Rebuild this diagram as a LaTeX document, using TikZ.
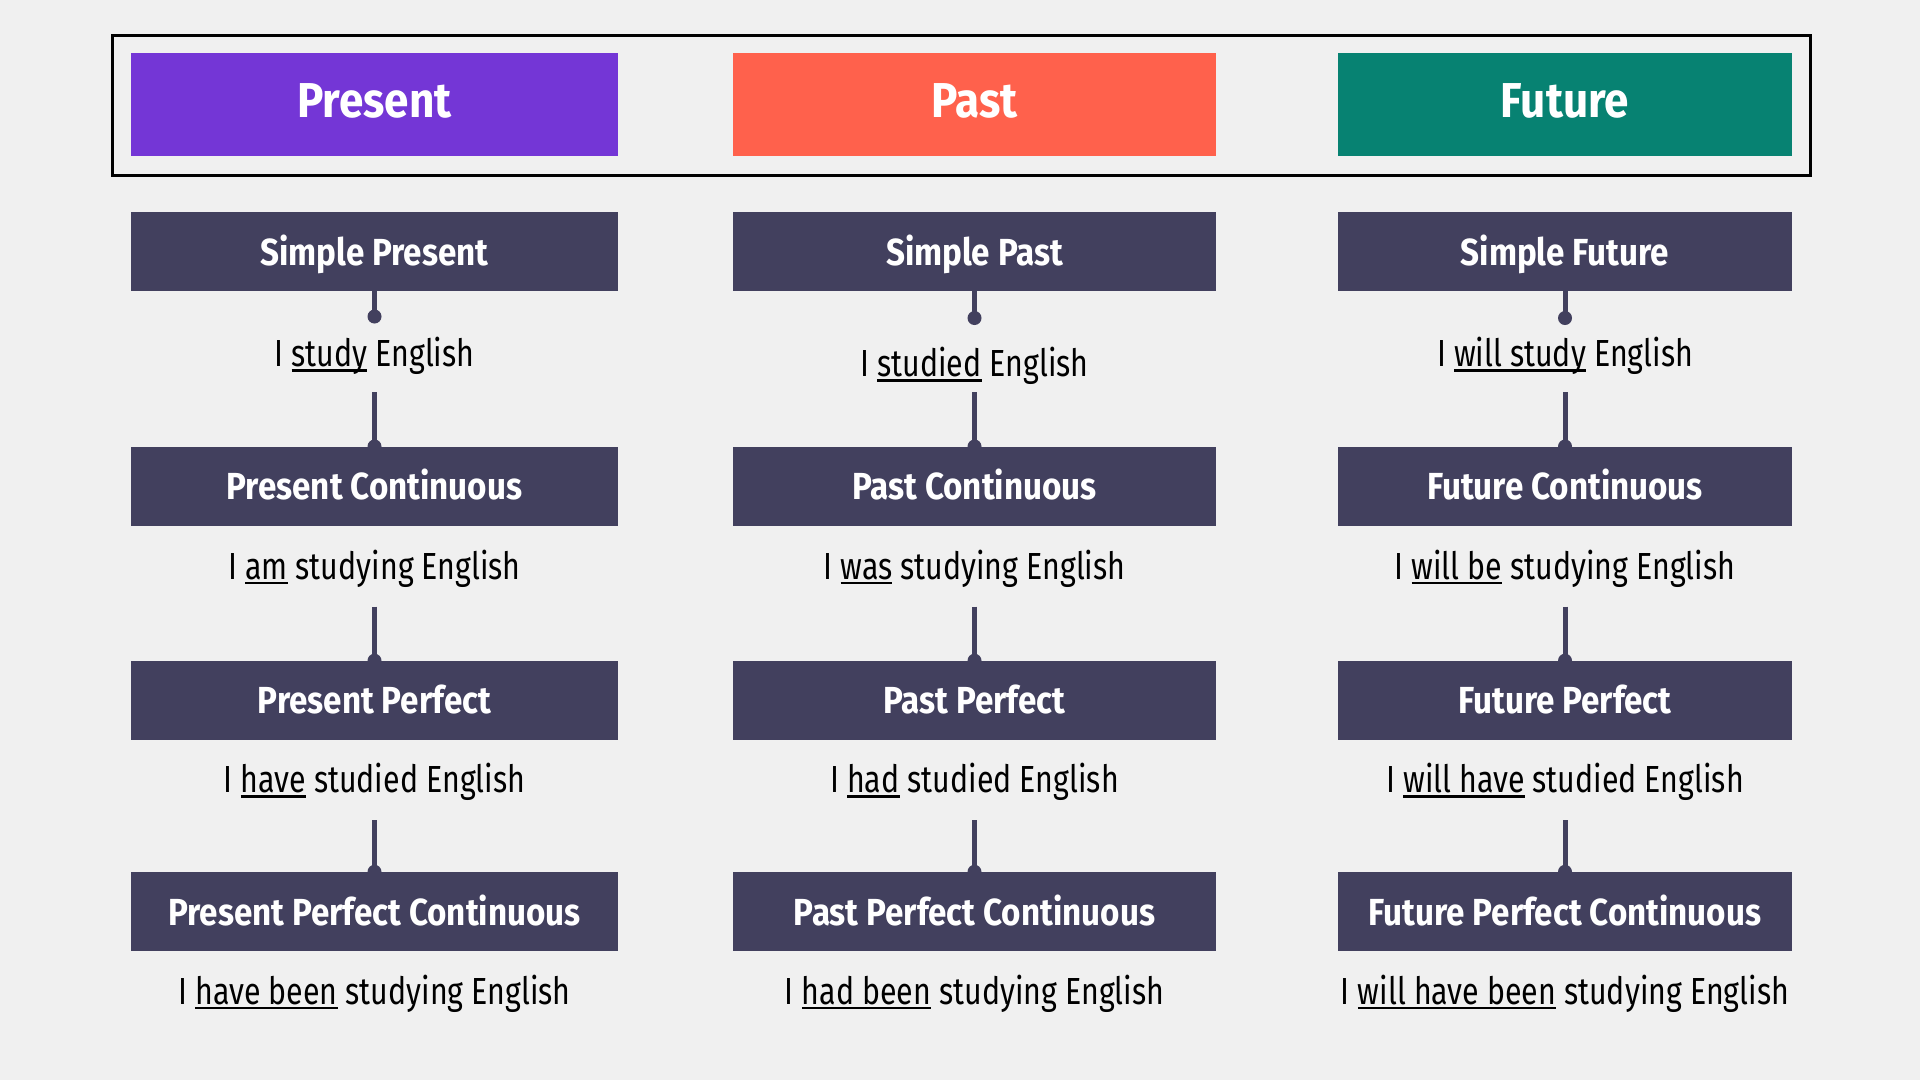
\documentclass[tikz,border=0pt]{standalone}
\usepackage{fontspec}
\setmainfont{Fira Sans}[FakeStretch=0.805]
\newfontfamily\headfont{Fira Sans Bold}[FakeStretch=0.9]
\newfontfamily\boxfont{Fira Sans Bold}[FakeStretch=0.88]
\definecolor{bgc}{HTML}{F0F0F0}
\definecolor{boxc}{HTML}{42405E}
\definecolor{presc}{HTML}{7436D6}
\definecolor{pastc}{HTML}{FF614C}
\definecolor{futc}{HTML}{078272}
\newsavebox\myulbox
\newcommand\myul[1]{\sbox\myulbox{#1}\rlap{\rule[-4.8pt]{\wd\myulbox}{2.2pt}}\usebox\myulbox}
\tikzset{
  hbox/.style={text=white, font=\fontsize{49}{52}\selectfont\headfont, minimum height=102.7, inner sep=0, text height=26, text depth=0},
  tbox/.style={fill=boxc, text=white, font=\fontsize{37.7}{40}\selectfont\boxfont, minimum height=79, inner sep=0, text height=27, text depth=0},
  body/.style={font=\fontsize{37.7}{40}\selectfont, anchor=base, inner sep=0, text=black},
  conn/.style={draw=boxc, line width=5},
  dotc/.style={fill=boxc},
}
\begin{document}
\begin{tikzpicture}[x=1pt,y=-1pt]
\fill[bgc] (0,0) rectangle (1920,1080);
\useasboundingbox (0,0) rectangle (1920,1080);
% frame
\node[draw=black, line width=3, minimum width=1697.3, minimum height=140, inner sep=0] (frame) at (961.35,105) {};
% headers
\node[hbox, fill=presc, minimum width=487] (HP) at (374.5,104.35) {Present};
\node[hbox, fill=pastc, minimum width=483] (HA) at (974.5,104.35) {Past};
\node[hbox, fill=futc, minimum width=454] (HF) at (1565,104.35) {Future};
% ---------- Present column
\node[tbox, minimum width=487] (P1) at (374.5,251.7) {Simple Present};
\node[tbox, minimum width=487] (P2) at (374.5,486.2) {Present Continuous};
\node[tbox, minimum width=487] (P3) at (374.5,700.4) {Present Perfect};
\node[tbox, minimum width=487] (P4) at (374.5,911.5) {Present Perfect Continuous};
\node[body] (P1t) at (374.5,366.7) {I \myul{study} English};
\node[body] (P2t) at (374.5,579.3) {I \myul{am} studying English};
\node[body] (P3t) at (374.5,792.7) {I \myul{have} studied English};
\node[body] (P4t) at (374.5,1004.5) {I \myul{have been} studying English};
% ---------- Past column
\node[tbox, minimum width=483] (A1) at (974.5,251.7) {Simple Past};
\node[tbox, minimum width=483] (A2) at (974.5,486.2) {Past Continuous};
\node[tbox, minimum width=483] (A3) at (974.5,700.4) {Past Perfect};
\node[tbox, minimum width=483] (A4) at (974.5,911.5) {Past Perfect Continuous};
\node[body] (A1t) at (974.5,376.7) {I \myul{studied} English};
\node[body] (A2t) at (974.5,579.3) {I \myul{was} studying English};
\node[body] (A3t) at (974.5,792.7) {I \myul{had} studied English};
\node[body] (A4t) at (974.5,1004.5) {I \myul{had been} studying English};
% ---------- Future column
\node[tbox, minimum width=454] (F1) at (1565,251.7) {Simple Future};
\node[tbox, minimum width=454] (F2) at (1565,486.2) {Future Continuous};
\node[tbox, minimum width=454] (F3) at (1565,700.4) {Future Perfect};
\node[tbox, minimum width=454] (F4) at (1565,911.5) {Future Perfect Continuous};
\node[body] (F1t) at (1565,366.7) {I \myul{will study} English};
\node[body] (F2t) at (1565,579.3) {I \myul{will be} studying English};
\node[body] (F3t) at (1565,792.7) {I \myul{will have} studied English};
\node[body] (F4t) at (1565,1004.5) {I \myul{will have been} studying English};
% ---------- connectors
\foreach \c/\x/\dy in {P/374.5/316.5, A/974.5/318, F/1565/318}{
  \coordinate (\c1d) at (\x,\dy);
  \coordinate (\c2c) at (\x,392);
  \coordinate (\c3c) at (\x,606.7);
  \coordinate (\c4c) at (\x,820);
  \draw[conn] (\c1.south) -- (\c1d);
  \fill[dotc] (\c1d) circle (7);
  \draw[conn] (\c2c) -- (\c2.north);
  \fill[dotc] (\c2.north) circle (7);
  \draw[conn] (\c3c) -- (\c3.north);
  \fill[dotc] (\c3.north) circle (7);
  \draw[conn] (\c4c) -- (\c4.north);
  \fill[dotc] (\c4.north) circle (7);
}
\end{tikzpicture}
\end{document}
